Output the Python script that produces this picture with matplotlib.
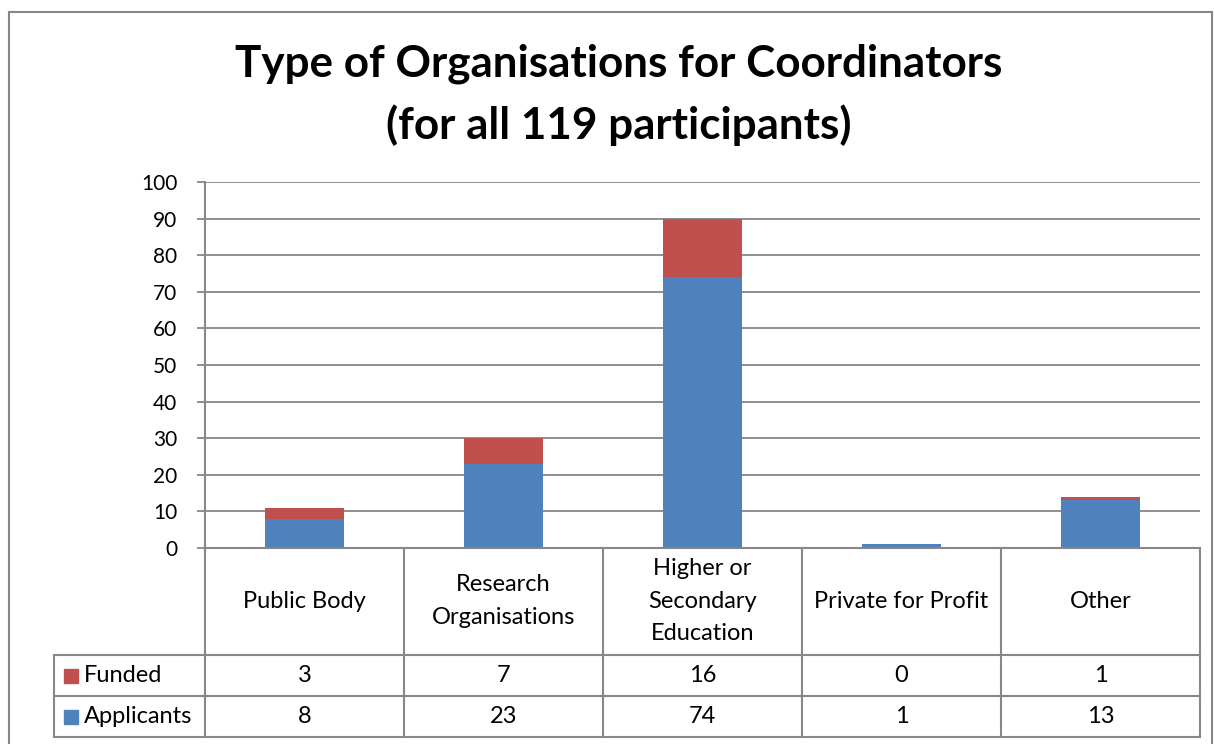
import matplotlib
matplotlib.use("Agg")
import matplotlib.pyplot as plt
from matplotlib.patches import Rectangle

plt.rcParams["font.family"] = ["Lato", "DejaVu Sans"]

categories = ["Public Body", "Research\nOrganisations", "Higher or\nSecondary\nEducation",
              "Private for Profit", "Other"]
applicants = [8, 23, 74, 1, 13]
funded = [3, 7, 16, 0, 1]
series_names = ["Funded", "Applicants"]

BLUE = "#4F81BD"
RED = "#C0504D"
GRID = "#878787"
FS = 17

W, H = 1214, 744
fig = plt.figure(figsize=(W / 100, H / 100), dpi=100)


def px_box(x0, y0, x1, y1):
    return [x0 / W, 1 - y1 / H, (x1 - x0) / W, (y1 - y0) / H]


# outer chart border
fig.add_artist(Rectangle((9 / W, -0.01), (1212 - 9) / W, 1 - 12 / H + 0.01,
                         transform=fig.transFigure, fill=False, ec=GRID, lw=1.5))

fig.text(619 / W, 1 - 95 / H, "Type of Organisations for Coordinators\n(for all 119 participants)",
         ha="center", va="center", fontsize=31.7, fontweight="bold", linespacing=1.58)

ax = fig.add_axes(px_box(205, 182, 1200, 548))
x = range(len(categories))
ax.bar(x, applicants, width=0.4, color=BLUE, zorder=3)
ax.bar(x, funded, width=0.4, bottom=applicants, color=RED, zorder=3)
ax.set_xlim(-0.5, len(categories) - 0.5)
ax.set_ylim(0, 100)
ax.set_yticks(range(0, 101, 10))
ax.yaxis.grid(True, color=GRID, lw=1.3, zorder=0)
ax.set_xticks([])
for s in ["top", "right", "bottom"]:
    ax.spines[s].set_visible(False)
ax.spines["left"].set_color(GRID)
ax.spines["left"].set_linewidth(1.5)
ax.tick_params(axis="y", length=6, width=1.3, color=GRID, labelsize=15, pad=14)

# data table below the axis
ax_t = fig.add_axes(px_box(205, 548, 1200, 737))
ax_t.set_xlim(-0.5, len(categories) - 0.5)
ax_t.set_ylim(189, 0)
ax_t.axis("off")
left = -0.5 - 151 / 199
row_edges = [0, 107, 148, 189]
lkw = dict(color=GRID, lw=1.5, clip_on=False)
ax_t.plot([-0.5, len(categories) - 0.5], [0, 0], **lkw)
for y in row_edges[1:]:
    ax_t.plot([left, len(categories) - 0.5], [y, y], **lkw)
for i in range(len(categories) + 1):
    ax_t.plot([i - 0.5, i - 0.5], [0, 189], **lkw)
ax_t.plot([left, left], [107, 189], **lkw)

for i, cat in enumerate(categories):
    ax_t.text(i, 53, cat, ha="center", va="center", fontsize=FS, linespacing=1.7)
    ax_t.text(i, 127.5, str(funded[i]), ha="center", va="center", fontsize=FS)
    ax_t.text(i, 168.5, str(applicants[i]), ha="center", va="center", fontsize=FS)

for name, color, yc in zip(series_names, [RED, BLUE], [127.5, 168.5]):
    ax_t.add_patch(Rectangle((left + 10 / 199, yc - 7), 14 / 199, 14, color=color, clip_on=False))
    ax_t.text(left + 30 / 199, yc, name, ha="left", va="center", fontsize=FS)

fig.savefig("out.png", dpi=100)
